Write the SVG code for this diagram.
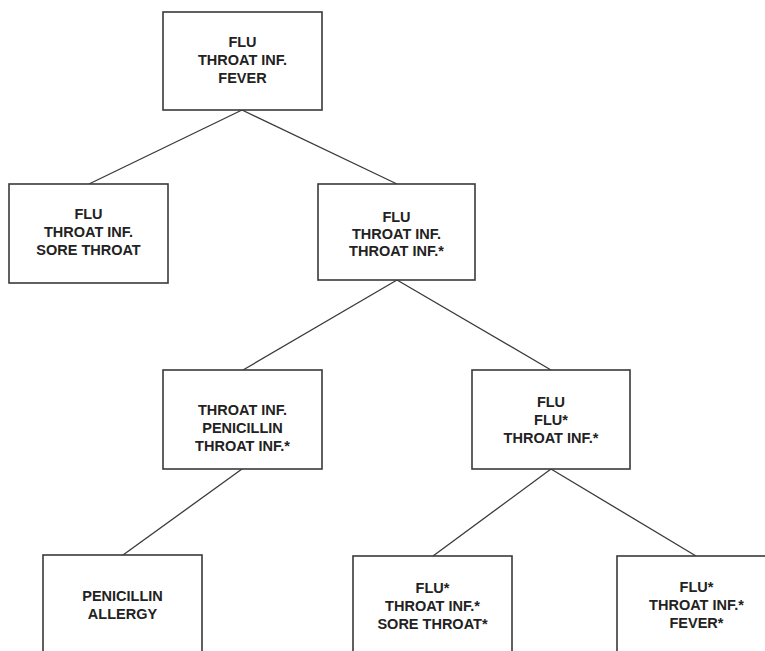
<svg xmlns="http://www.w3.org/2000/svg" width="765" height="651" viewBox="0 0 765 651">
  <style>
    .box { fill: #ffffff; stroke: #3a3a3a; stroke-width: 1.6; }
    .edge { stroke: #3a3a3a; stroke-width: 1.3; fill: none; }
    .lbl { font-family: "Liberation Sans", Arial, sans-serif; font-weight: bold; font-size: 14.5px; fill: #222222; text-anchor: middle; }
  </style>
  <rect width="765" height="651" fill="#ffffff"/>

  <g id="connectors">
    <line class="edge" x1="242" y1="110" x2="89" y2="184"/>
    <line class="edge" x1="242" y1="110" x2="397" y2="184"/>
    <line class="edge" x1="397" y1="280" x2="243" y2="370"/>
    <line class="edge" x1="397" y1="280" x2="551" y2="370"/>
    <line class="edge" x1="242" y1="469" x2="123" y2="555"/>
    <line class="edge" x1="551" y1="469" x2="433" y2="556"/>
    <line class="edge" x1="551" y1="469" x2="696" y2="556"/>
  </g>

  <g id="root">
    <rect class="box" x="163" y="12" width="159" height="98"/>
    <text class="lbl" x="242.5" y="47">FLU</text>
    <text class="lbl" x="242.5" y="65">THROAT INF.</text>
    <text class="lbl" x="242.5" y="83">FEVER</text>
  </g>

  <g id="sore-throat">
    <rect class="box" x="9" y="184" width="159" height="99"/>
    <text class="lbl" x="88.5" y="219">FLU</text>
    <text class="lbl" x="88.5" y="237">THROAT INF.</text>
    <text class="lbl" x="88.5" y="255">SORE THROAT</text>
  </g>

  <g id="throat-inf">
    <rect class="box" x="318" y="184" width="157" height="96"/>
    <text class="lbl" x="396.5" y="222">FLU</text>
    <text class="lbl" x="396.5" y="239">THROAT INF.</text>
    <text class="lbl" x="396.5" y="256">THROAT INF.*</text>
  </g>

  <g id="penicillin">
    <rect class="box" x="163" y="370" width="159" height="99"/>
    <text class="lbl" x="242.5" y="415">THROAT INF.</text>
    <text class="lbl" x="242.5" y="433">PENICILLIN</text>
    <text class="lbl" x="242.5" y="451">THROAT INF.*</text>
  </g>

  <g id="flu-star">
    <rect class="box" x="472" y="370" width="158" height="99"/>
    <text class="lbl" x="551" y="407">FLU</text>
    <text class="lbl" x="551" y="425">FLU*</text>
    <text class="lbl" x="551" y="443">THROAT INF.*</text>
  </g>

  <g id="allergy">
    <rect class="box" x="43" y="555" width="159" height="110"/>
    <text class="lbl" x="122.5" y="601">PENICILLIN</text>
    <text class="lbl" x="122.5" y="619">ALLERGY</text>
  </g>

  <g id="sore-throat-star">
    <rect class="box" x="353" y="556" width="159" height="110"/>
    <text class="lbl" x="432.5" y="593">FLU*</text>
    <text class="lbl" x="432.5" y="611">THROAT INF.*</text>
    <text class="lbl" x="432.5" y="629">SORE THROAT*</text>
  </g>

  <g id="fever-star">
    <rect class="box" x="617" y="556" width="159" height="110"/>
    <text class="lbl" x="696.5" y="592">FLU*</text>
    <text class="lbl" x="696.5" y="610">THROAT INF.*</text>
    <text class="lbl" x="696.5" y="628">FEVER*</text>
  </g>
</svg>
